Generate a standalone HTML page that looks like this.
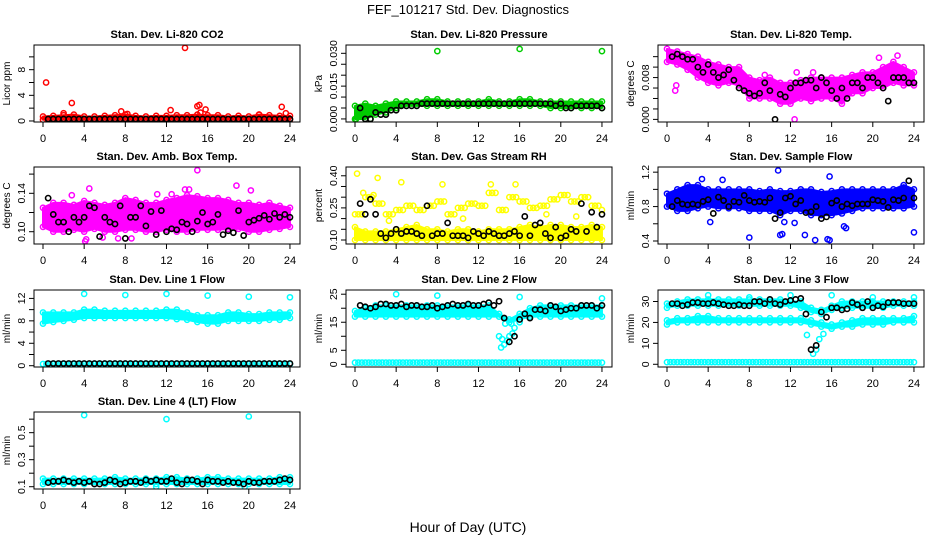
<!DOCTYPE html>
<html><head><meta charset="utf-8"><style>
html,body{margin:0;padding:0;background:#fff;width:936px;height:540px;overflow:hidden}
svg{display:block;font-family:"Liberation Sans",sans-serif}
</style></head><body>
<svg id="chart" width="936" height="540" viewBox="0 0 936 540" xmlns="http://www.w3.org/2000/svg">
<text x="468" y="14" text-anchor="middle" font-size="13">FEF_101217  Std. Dev. Diagnostics</text>
<text x="468" y="532" text-anchor="middle" font-size="14">Hour of Day (UTC)</text>
</svg>
<script>
// ---- data (hourly band edges, half-hourly black points, outliers [hour,value]) ----
const hours = [0,1,2,3,4,5,6,7,8,9,10,11,12,13,14,15,16,17,18,19,20,21,22,23,24];
const xTicks = [0,4,8,12,16,20,24];

const co2Hi = [0.7,0.8,0.9,1.0,0.7,0.7,0.8,0.9,1.0,0.8,0.7,0.8,0.8,0.9,0.9,1.0,0.9,0.9,0.7,0.8,0.7,1.0,0.9,0.8,0.8];
const co2Lo = [0.2,0.2,0.2,0.2,0.2,0.2,0.2,0.2,0.2,0.2,0.2,0.2,0.2,0.2,0.2,0.2,0.2,0.2,0.2,0.2,0.2,0.2,0.2,0.2,0.2];
const co2Out = [[0.3,6],[2.8,2.8],[13.8,11.4],[15,2.3],[15.2,2.5],[15.8,1.8],[12.4,1.7],[7.6,1.5],[23.2,2.2],[23.6,1.2],[2,1.2],[15.3,1.3],[8.2,1.1],[21,1.0]];
const co2Blk = [0.3,0.3,0.3,0.3,0.3,0.3,0.3,0.3,0.3,0.3,0.3,0.3,0.3,0.3,0.3,0.3,0.3,0.3,0.3,0.3,0.3,0.3,0.3,0.3,0.3,0.3,0.3,0.3,0.3,0.3,0.3,0.3,0.3,0.3,0.3,0.3,0.3,0.3,0.3,0.3,0.3,0.3,0.3,0.3,0.3,0.3,0.3,0.3];

const presHi = [0.006,0.007,0.006,0.007,0.008,0.008,0.008,0.009,0.009,0.008,0.008,0.008,0.008,0.009,0.008,0.008,0.009,0.009,0.008,0.008,0.008,0.008,0.008,0.008,0.008];
const presLo = [0.000,0.000,0.002,0.003,0.005,0.006,0.006,0.006,0.006,0.006,0.006,0.006,0.006,0.006,0.006,0.006,0.006,0.006,0.006,0.005,0.005,0.005,0.005,0.005,0.005];
const presOut = [[8,0.031],[16,0.032],[24,0.031],[0.1,0.0],[0.3,0.001],[1.5,0.0]];
const presBlk = [0.005,0.000,0.000,0.003,0.002,0.002,0.004,0.004,0.006,0.006,0.006,0.006,0.007,0.007,0.007,0.007,0.007,0.007,0.007,0.007,0.007,0.007,0.007,0.007,0.007,0.007,0.007,0.007,0.007,0.007,0.007,0.007,0.007,0.007,0.007,0.007,0.007,0.007,0.006,0.007,0.005,0.005,0.006,0.006,0.006,0.006,0.006,0.005];

const tempHi = [0.0135,0.013,0.0125,0.012,0.011,0.0105,0.010,0.010,0.008,0.0075,0.008,0.007,0.007,0.0075,0.008,0.008,0.008,0.008,0.0085,0.009,0.009,0.010,0.011,0.010,0.009];
const tempLo = [0.011,0.0105,0.0095,0.008,0.007,0.0065,0.007,0.0065,0.004,0.004,0.004,0.003,0.003,0.004,0.0035,0.004,0.004,0.003,0.005,0.005,0.006,0.006,0.007,0.0065,0.0065];
const tempOut = [[0.8,0.0055],[0.9,0.0065],[12.4,0.0],[9.5,0.0085],[12.6,0.009],[14.2,0.009],[20.6,0.0118],[22.4,0.0122]];
const tempBlk = [0.012,0.0125,0.012,0.0115,0.0115,0.010,0.009,0.0105,0.009,0.008,0.0085,0.0095,0.0075,0.006,0.0055,0.005,0.0045,0.005,0.007,0.0055,0.0000,0.0048,0.0043,0.006,0.007,0.007,0.0075,0.0075,0.006,0.008,0.007,0.0055,0.004,0.006,0.004,0.007,0.007,0.006,0.008,0.008,0.007,0.006,0.0035,0.008,0.008,0.008,0.007,0.007];

const ambHi = [0.125,0.13,0.13,0.128,0.132,0.13,0.128,0.13,0.135,0.133,0.13,0.13,0.133,0.135,0.138,0.137,0.135,0.135,0.133,0.13,0.13,0.128,0.13,0.127,0.125];
const ambLo = [0.105,0.100,0.100,0.102,0.100,0.103,0.100,0.100,0.102,0.102,0.100,0.100,0.102,0.100,0.100,0.102,0.102,0.102,0.103,0.103,0.100,0.100,0.102,0.103,0.105];
const ambOut = [[4.1,0.090],[4.2,0.092],[5.8,0.094],[4.5,0.145],[15,0.164],[18.8,0.148],[13.8,0.144],[14.2,0.144],[20.2,0.143],[8.6,0.093],[2.8,0.138],[7.3,0.093],[11.1,0.139],[12.5,0.139]];
const ambBlk = [0.135,0.118,0.110,0.110,0.100,0.115,0.110,0.115,0.127,0.125,0.095,0.115,0.110,0.108,0.127,0.093,0.115,0.115,0.127,0.106,0.121,0.097,0.122,0.100,0.103,0.102,0.110,0.108,0.100,0.111,0.120,0.108,0.110,0.118,0.097,0.101,0.099,0.122,0.096,0.110,0.112,0.114,0.117,0.113,0.119,0.115,0.118,0.115];

const rhHi = [0.16,0.14,0.14,0.14,0.15,0.16,0.17,0.15,0.15,0.14,0.15,0.15,0.14,0.15,0.15,0.15,0.16,0.17,0.16,0.17,0.17,0.16,0.16,0.17,0.16];
const rhLo = [0.10,0.10,0.10,0.10,0.10,0.10,0.10,0.10,0.10,0.10,0.10,0.10,0.10,0.10,0.10,0.10,0.10,0.10,0.10,0.10,0.10,0.10,0.10,0.10,0.10];
const rhMid = [0.22,0.30,0.27,0.22,0.24,0.26,0.24,0.26,0.28,0.22,0.25,0.27,0.26,0.32,0.24,0.30,0.28,0.25,0.26,0.29,0.31,0.28,0.30,0.26,0.24];
const rhOut = [[0.2,0.41],[2.2,0.39],[4.5,0.37],[8.5,0.36],[13.2,0.36],[15.6,0.36],[0.8,0.32],[1.8,0.31],[3.3,0.19],[10.5,0.20],[18.6,0.22],[21.5,0.21]];
const rhBlk = [0.27,0.22,0.29,0.22,0.13,0.11,0.13,0.15,0.13,0.14,0.14,0.13,0.12,0.26,0.12,0.13,0.13,0.18,0.12,0.12,0.12,0.11,0.14,0.13,0.12,0.14,0.13,0.12,0.12,0.13,0.14,0.12,0.21,0.12,0.17,0.18,0.13,0.11,0.16,0.11,0.12,0.15,0.14,0.27,0.14,0.23,0.16,0.22];

const sfHi = [0.95,1.0,1.05,1.05,1.0,1.0,1.0,1.0,1.0,0.98,1.0,0.98,0.98,1.0,1.0,0.97,0.98,1.0,1.0,1.0,1.0,1.0,1.0,1.05,1.0];
const sfLo = [0.8,0.75,0.75,0.78,0.8,0.78,0.78,0.78,0.75,0.75,0.75,0.7,0.75,0.75,0.7,0.7,0.7,0.72,0.75,0.78,0.78,0.78,0.78,0.78,0.8];
const sfOut = [[8,0.44],[10.8,1.22],[15.8,1.15],[11,0.47],[11.2,0.48],[13.4,0.47],[14.4,0.41],[15.6,0.42],[15.8,0.41],[17.4,0.55],[24,0.50],[4.2,0.62],[11.4,0.62],[12.4,0.61],[3.4,1.12],[5.4,1.11],[17.2,0.57]];
const sfBlk = [0.80,0.87,0.83,0.82,0.83,0.82,0.86,0.88,0.72,0.91,0.87,0.80,0.86,0.85,0.93,0.87,0.85,0.86,0.85,0.90,0.66,0.73,0.90,0.92,0.83,0.87,0.73,0.74,0.80,0.66,0.68,0.84,0.87,0.80,0.83,0.81,0.83,0.83,0.83,0.88,0.87,0.86,0.79,0.88,0.87,0.90,1.10,0.90];

const l1Hi = [9.5,9.5,9.5,9.5,10,10,9.8,9.8,9.8,9.8,9.8,9.8,10,10,9.5,9,9,9,9.5,9.5,9.2,9.2,9.5,9.5,9.5];
const l1Lo = [7.5,7.8,8,8.2,8.5,8.5,8.5,8.5,8.5,8.5,8.5,8.5,8.5,8.3,8.2,7.8,7.5,7.5,8,8,8,8,8.2,8.2,8.5];
const l1Base = [0.3,0.3,0.3,0.3,0.3,0.3,0.3,0.3,0.3,0.3,0.3,0.3,0.3,0.3,0.3,0.3,0.3,0.3,0.3,0.3,0.3,0.3,0.3,0.3,0.3];
const l1Out = [[4,12.8],[8,12.6],[12,12.8],[16,12.5],[20,12.3],[24,12.2]];
const l1Blk = [0.4,0.4,0.4,0.4,0.4,0.4,0.4,0.4,0.4,0.4,0.4,0.4,0.4,0.4,0.4,0.4,0.4,0.4,0.4,0.4,0.4,0.4,0.4,0.4,0.4,0.4,0.4,0.4,0.4,0.4,0.4,0.4,0.4,0.4,0.4,0.4,0.4,0.4,0.4,0.4,0.4,0.4,0.4,0.4,0.4,0.4,0.4,0.4];

const l2Hi = [19,20,21,21,21,21,21,21,21,21,21,21,21,21,18,16,18,20,21,21,21,21,21,21,21];
const l2Lo = [17,17,17,17,17,17,17,17,17,17,17,17,17,17,17,15,16,17,17,17,17,17,17,17,17];
const l2Base = [0.6,0.6,0.6,0.6,0.6,0.6,0.6,0.6,0.6,0.6,0.6,0.6,0.6,0.6,0.6,0.6,0.6,0.6,0.6,0.6,0.6,0.6,0.6,0.6,0.6];
const l2Out = [[14,10],[14.3,9],[14.5,7],[14.8,8.5],[15,10],[15.3,11],[15.5,13],[14.2,6],[14.6,14.5],[15.2,14.5],[16,15],[4,25],[8,24.5],[16,24],[24,23.5]];
const l2Blk = [21,20.5,20,20.5,21.5,21.5,21,21,21.5,20.5,21,21,20.5,20.5,21,20,20.5,21,21.5,21,21,21.5,21,21,21.5,22,21,22.5,16.5,8,10,16,18,16.5,19.5,19.5,19,21,20.5,19,19.5,20,20,21,21,21,20,21];

const l3UHi = [29,30,31,31,31,31,31,31,31,31,31,31,30,30,27,26,28,30,30,30,30,30,30,30,30];
const l3ULo = [27,28,28,28,28,28,28,28,28,28,28,28,28,27,25,24,26,27,27,27,27,27,28,28,28];
const l3LHi = [21,22,22,23,23,22,22,22,22,22,22,22,22,22,21,20,19,20,21,22,22,22,22,22,23];
const l3LLo = [19,20,20,20,20,20,20,20,20,20,20,20,20,20,19,18,17,18,18,19,19,19,20,20,20];
const l3Base = [1,1,1,1,1,1,1,1,1,1,1,1,1,1,1,1,1,1,1,1,1,1,1,1,1];
const l3Out = [[13.6,14],[14.2,5],[14.5,7],[14.8,12],[15.2,14.5],[16,33],[4,33],[8,32],[12,33],[20,32],[24,32]];
const l3Blk = [29,29,28,28.5,29.5,29.5,29,29,29.5,29,28.5,28,28,28.5,28,28,30,30,29,31,29,28.5,30,30.5,31,31.5,24,7,9,25,22.5,27,27,26,26.5,29.5,28.5,27,30,27,28,27.5,29.5,29.5,29.5,29,29,29];

const l4Hi = [0.16,0.16,0.16,0.16,0.16,0.16,0.16,0.17,0.16,0.16,0.16,0.16,0.17,0.17,0.16,0.16,0.17,0.17,0.16,0.16,0.16,0.16,0.16,0.17,0.17];
const l4Lo = [0.12,0.12,0.12,0.12,0.12,0.12,0.12,0.12,0.12,0.12,0.12,0.12,0.12,0.12,0.12,0.12,0.12,0.12,0.12,0.12,0.12,0.12,0.12,0.12,0.12];
const l4Out = [[4,0.63],[12,0.60],[20,0.62],[11,0.10],[19.6,0.10]];
const l4Blk = [0.13,0.14,0.14,0.15,0.14,0.13,0.14,0.13,0.14,0.12,0.12,0.13,0.15,0.14,0.12,0.13,0.14,0.14,0.13,0.15,0.14,0.15,0.14,0.14,0.16,0.13,0.12,0.15,0.15,0.14,0.12,0.15,0.14,0.14,0.13,0.14,0.13,0.13,0.12,0.14,0.13,0.13,0.14,0.14,0.14,0.15,0.16,0.15];

// ---- layout ----
const NS='http://www.w3.org/2000/svg';
const svg=document.getElementById('chart');
function mk(tag,attrs,parent){const e=document.createElementNS(NS,tag);for(const k in attrs)e.setAttribute(k,attrs[k]);(parent||svg).appendChild(e);return e;}

const panels=[
 {key:'co2',col:0,row:0,title:'Stan. Dev. Li-820 CO2',ylab:'Licor ppm',dom:[-0.16,11.85],ticks:[0,2,4,6,8,10],labels:[0,4,8],fmt:v=>String(v),color:'#ff0000',bands:[[co2Hi,co2Lo]],lines:[],out:co2Out,blk:co2Blk},
 {key:'pressure',col:1,row:0,title:'Stan. Dev. Li-820 Pressure',ylab:'kPa',dom:[-0.0014,0.0338],ticks:[0,0.005,0.01,0.015,0.02,0.025,0.03],labels:[0,0.015,0.03],fmt:v=>v.toFixed(3),color:'#00cc00',bands:[[presHi,presLo]],lines:[],out:presOut,blk:presBlk},
 {key:'temp',col:2,row:0,title:'Stan. Dev. Li-820 Temp.',ylab:'degrees C',dom:[-0.0005,0.01423],ticks:[0,0.002,0.004,0.006,0.008,0.010,0.012],labels:[0,0.008],fmt:v=>v.toFixed(3),color:'#ff00ff',bands:[[tempHi,tempLo]],lines:[],out:tempOut,blk:tempBlk},
 {key:'amb-box',col:0,row:1,title:'Stan. Dev. Amb. Box Temp.',ylab:'degrees C',dom:[0.0872,0.1674],ticks:[0.10,0.12,0.14,0.16],labels:[0.10,0.14],fmt:v=>v.toFixed(2),color:'#ff00ff',bands:[[ambHi,ambLo]],lines:[],out:ambOut,blk:ambBlk},
 {key:'rh',col:1,row:1,title:'Stan. Dev. Gas Stream RH',ylab:'percent',dom:[0.0813,0.441],ticks:[0.10,0.15,0.20,0.25,0.30,0.35,0.40],labels:[0.10,0.25,0.40],fmt:v=>v.toFixed(2),color:'#ffff00',bands:[[rhHi,rhLo]],lines:[rhMid],out:rhOut,blk:rhBlk},
 {key:'sample-flow',col:2,row:1,title:'Stan. Dev. Sample Flow',ylab:'ml/min',dom:[0.365,1.26],ticks:[0.4,0.6,0.8,1.0,1.2],labels:[0.4,0.8,1.2],fmt:v=>v.toFixed(1),color:'#0000ff',bands:[[sfHi,sfLo]],lines:[],out:sfOut,blk:sfBlk},
 {key:'line1',col:0,row:2,title:'Stan. Dev. Line 1 Flow',ylab:'ml/min',dom:[-0.23,13.5],ticks:[0,2,4,6,8,10,12],labels:[0,4,8,12],fmt:v=>String(v),color:'#00ffff',bands:[[l1Hi,l1Lo]],lines:[l1Base],out:l1Out,blk:l1Blk},
 {key:'line2',col:1,row:2,title:'Stan. Dev. Line 2 Flow',ylab:'ml/min',dom:[-0.96,26.5],ticks:[0,5,10,15,20,25],labels:[0,5,15,25],fmt:v=>String(v),color:'#00ffff',bands:[[l2Hi,l2Lo]],lines:[l2Base],out:l2Out,blk:l2Blk},
 {key:'line3',col:2,row:2,title:'Stan. Dev. Line 3 Flow',ylab:'ml/min',dom:[-1.3,35.5],ticks:[0,10,20,30],labels:[0,10,20,30],fmt:v=>String(v),color:'#00ffff',bands:[[l3UHi,l3ULo],[l3LHi,l3LLo]],lines:[l3Base],out:l3Out,blk:l3Blk},
 {key:'line4',col:0,row:3,title:'Stan. Dev. Line 4 (LT) Flow',ylab:'ml/min',dom:[0.083,0.653],ticks:[0.1,0.2,0.3,0.4,0.5,0.6],labels:[0.1,0.3,0.5],fmt:v=>v.toFixed(1),color:'#00ffff',bands:[[l4Hi,l4Lo]],lines:[],out:l4Out,blk:l4Blk}
];
const boxTops=[45,167,290,412], BOXH=77, BOXW=266;

panels.forEach(p=>{
  const L=34+312*p.col, T=boxTops[p.row], R=L+BOXW, B=T+BOXH;
  const g=mk('g',{});
  
  
  const xs=t=>L+9+t*10.29;
  const ys=v=>B-(v-p.dom[0])/(p.dom[1]-p.dom[0])*BOXH;
  const cx=L+BOXW/2;
  const title=mk('text',{x:cx,y:T-7,'text-anchor':'middle','font-size':'11','font-weight':'bold'},g);
  title.textContent=p.title;
  
  
  const yl=mk('text',{x:0,y:0,transform:`translate(${L-24},${(T+B)/2}) rotate(-90)`,'text-anchor':'middle','font-size':'10'},g);
  yl.textContent=p.ylab;
  
  
  // y axis
  const yAx=mk('g',{stroke:'#000','stroke-width':1},g);
  
  
  mk('line',{x1:L,x2:L,y1:ys(p.ticks[0]),y2:ys(p.ticks[p.ticks.length-1])},yAx);
  p.ticks.forEach(v=>mk('line',{x1:L-5,x2:L,y1:ys(v),y2:ys(v)},yAx));
  p.labels.forEach(v=>{
    const t=mk('text',{x:0,y:0,transform:`translate(${L-9},${ys(v)}) rotate(-90)`,'text-anchor':'middle','font-size':'10.5',stroke:'none',fill:'#000'},g);
    t.textContent=p.fmt(v);
    
    
  });
  // x axis
  const xAx=mk('g',{stroke:'#000','stroke-width':1},g);
  
  
  mk('line',{x1:xs(0),x2:xs(24),y1:B,y2:B},xAx);
  xTicks.forEach(v=>{
    mk('line',{x1:xs(v),x2:xs(v),y1:B,y2:B+5},xAx);
    const t=mk('text',{x:xs(v),y:B+20,'text-anchor':'middle','font-size':'11',stroke:'none',fill:'#000'},g);
    t.textContent=String(v);
    
    
  });
  // clip
  const cid='clip-'+p.key;
  const cp=mk('clipPath',{id:cid},g);
  mk('rect',{x:L,y:T,width:BOXW,height:BOXH},cp);
  const plot=mk('g',{'clip-path':`url(#${cid})`},g);
  // bands
  p.bands.forEach(([hi,lo])=>{
    let d='';
    hours.forEach((h,i)=>{d+=(i?'L':'M')+xs(h)+','+ys(hi[i]);});
    for(let i=hours.length-1;i>=0;i--)d+='L'+xs(hours[i])+','+ys(lo[i]);
    const poly=mk('path',{d:d+'Z',fill:p.color,stroke:p.color,'stroke-width':2,'stroke-linejoin':'round'},plot);
    
    
    [hi,lo].forEach(arr=>arr.forEach((v,i)=>{
      const c=mk('circle',{cx:xs(hours[i]),cy:ys(v),r:2.6,fill:'none',stroke:p.color,'stroke-width':1.5},plot);
      
      
    }));
  });
  p.lines.forEach(arr=>arr.forEach((v,i)=>{
    [0,0.33,0.66].forEach(off=>{
      if(hours[i]+off>24)return;
      const c=mk('circle',{cx:xs(hours[i]+off),cy:ys(v),r:2.6,fill:'none',stroke:p.color,'stroke-width':1.5},plot);
      
      
    });
  }));
  p.out.forEach(([t,v])=>{
    const c=mk('circle',{cx:xs(t),cy:ys(v),r:2.6,fill:'none',stroke:p.color,'stroke-width':1.5},plot);
    
    
  });
  p.blk.forEach((v,i)=>{
    const c=mk('circle',{cx:xs(0.5*(i+1)),cy:ys(v),r:2.6,fill:'none',stroke:'#000','stroke-width':1.6},plot);
    
    
  });
  const box=mk('rect',{x:L,y:T,width:BOXW,height:BOXH,fill:'none',stroke:'#000','stroke-width':1},g);
  
  
});
</script>
</body></html>
